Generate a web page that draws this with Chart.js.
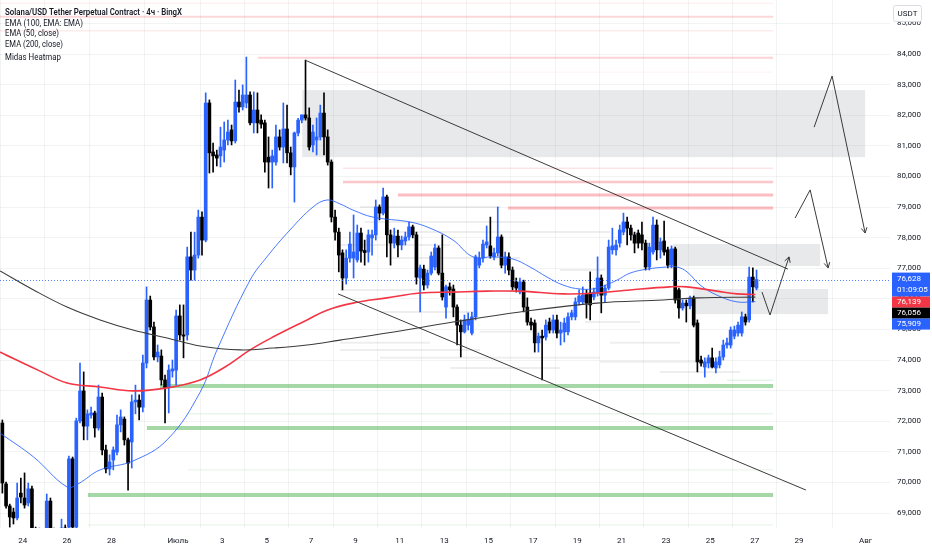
<!DOCTYPE html>
<html lang="ru">
<head>
<meta charset="UTF-8">
<title>SOLUSDT 4ч</title>
<script src="https://cdn.jsdelivr.net/npm/chart.js"></script>
<style>
  html, body { margin: 0; padding: 0; background: #fff; }
  .wrap { width: 932px; height: 550px; position: relative; }
</style>
</head>
<body>
<div class="wrap"><canvas id="chart"></canvas></div>
<script>
// 4h candles, index 0 = 23 June 00:00 (firstCandle = -6 candles before 24 June)
var firstCandle = -6;
var opens = [
  71940,69950,69230,69030,68840,69650,69490,69330,69790,68480,
  68280,68410,68440,69390,68440,68250,68350,68510,68540,70770,
  68540,72010,72990,71840,72200,72270,71780,72790,71060,70440,
  70730,70990,71880,72070,71390,71320,72630,72690,72460,73900,
  75960,75080,74100,74130,73350,73090,73640,73670,75440,74820,
  74820,77370,76940,77430,78670,77920,82400,80800,80700,80670,
  80860,81190,81520,81160,82430,82270,82400,82660,81750,82170,
  81840,81750,80630,80470,80470,81290,80960,81550,80770,80310,
  81420,81840,82010,81910,81030,81190,81290,82070,81290,80470,
  78670,78180,77500,76680,77330,77330,77270,78150,77560,77530,
  77990,78090,79000,78800,79330,78090,77820,78050,77760,77890,
  78020,78350,78090,76680,76970,76450,76840,77040,77660,76840,
  75730,76390,76320,75730,75140,74920,75140,74880,75410,77100,
  77330,77760,77730,77370,77500,78020,77100,77370,76940,76550,
  76220,76550,75730,75240,75210,74560,74780,74750,75240,74980,
  75310,74880,74920,74920,75410,75410,75900,75900,76160,76190,
  76060,76190,76680,76120,76350,77600,77600,77820,78180,78510,
  78310,78090,78150,78090,77820,77040,77530,78410,77600,77890,
  77600,77100,77630,76290,75700,75860,75770,76030,75210,74000,
  73770,73900,74070,73740,73840,74100,74490,74490,74780,74880,
  74880,75410,75310,76710,76350
];
var highs = [
  72040,70010,69290,69160,69980,70140,70310,69980,69880,68540,
  68510,68480,69620,69490,68510,68410,68800,68610,70860,70830,
  72100,73900,73610,72370,72460,72330,73180,72920,71220,70900,
  71160,72200,72370,72140,71450,72860,73180,72860,74160,76390,
  76090,75240,74490,74330,73510,73840,74000,75630,75800,75800,
  77690,78180,78180,78900,78840,82730,82500,81090,80860,81610,
  81780,81840,81680,83150,82820,82990,83900,82760,82760,82730,
  82010,81840,81290,80860,81680,81520,82400,82330,80960,81450,
  81900,82010,83800,82240,81680,81910,82330,82730,81520,80540,
  78900,78310,77600,77600,78180,78740,78410,78310,77920,78250,
  78250,79230,79070,79620,79390,78250,78310,78250,78050,78180,
  78510,78410,78180,77100,77100,76940,77530,77790,77730,78090,
  76450,76520,76450,75800,75310,75470,75540,75570,77430,77530,
  77920,78380,78670,77660,79000,78090,77530,77500,77040,76680,
  76680,76610,76030,75370,75310,74880,74980,75310,75370,75470,
  75470,75240,75370,75540,75630,76030,76290,76390,76290,76880,
  76350,77370,76780,76450,77920,78310,77920,78410,78800,78670,
  78410,78180,78250,78510,77920,77820,78670,78580,77990,78540,
  77690,77730,77690,76350,75960,75960,76090,76090,75310,74130,
  74070,74160,74390,74070,74290,74650,74720,75080,75110,75240,
  75570,75500,77040,77010,76940
];
var lows = [
  69650,69160,68540,68640,68770,69330,69160,69230,68380,68120,
  68050,68120,68350,68310,68120,68090,68280,68250,68410,68440,
  68440,71940,71390,71390,72100,71480,71710,70900,70310,70240,
  70410,70900,71650,71220,69750,70470,72240,72040,72300,73740,
  74980,74000,73940,73180,71940,72270,73440,73180,74650,74070,
  74650,76610,76610,77330,77430,77860,80110,80140,80340,80310,
  80470,81030,81030,81090,82100,82170,82240,81680,81420,81420,
  81580,80140,79620,79620,80370,80860,80440,80440,80050,79160,
  81320,81750,81840,80860,80800,80700,81190,80700,80370,78510,
  77920,76880,76290,76480,77200,76680,77200,77200,77100,77200,
  77430,77920,78580,78740,77370,77100,77660,77370,77600,77760,
  77920,77990,76480,75570,76290,76350,76780,76940,76780,75960,
  75370,76120,75410,74490,74100,74880,74980,74820,75310,77010,
  77200,77660,77330,77270,77400,77010,76840,76780,76290,76220,
  76160,75570,75140,74980,74260,74260,73350,74650,74880,74880,
  74720,74490,74590,74820,75310,75310,75800,75830,75370,75310,
  75960,76090,75540,75900,76290,77460,77430,77690,78090,77760,
  77920,77500,77660,77600,76940,76940,77460,77270,77330,77430,
  77010,77010,75860,75370,75630,75240,75670,75080,73610,73800,
  73440,73740,73740,73580,73740,74000,74390,74390,74690,74780,
  74780,75140,75240,75900,76290
];
var closes = [
  69980,69230,68870,68840,69490,69520,69260,69790,68480,68280,
  68410,68250,69390,68440,68250,68350,68510,68410,70770,68540,
  72010,72990,71840,72240,72270,71780,72790,71060,70440,70670,
  71060,71880,72140,71390,70630,72630,72690,72460,73900,75960,
  75080,74100,74260,73350,73090,73670,73710,75440,74820,74780,
  77370,76940,77430,78670,77920,82400,80770,80670,80600,80960,
  81190,81450,81160,82430,82270,82660,82660,81750,82170,81750,
  81710,80470,80470,80670,81290,80960,81550,80770,80310,81420,
  81840,82010,81910,80960,81450,81290,82070,81290,80470,78670,
  78180,77430,76680,77330,77790,77530,78150,77560,77530,78090,
  78090,79000,78800,79330,78090,77820,78050,77760,77920,78020,
  78350,78090,76710,77010,76450,76840,77400,77660,76840,76060,
  76390,76290,75730,75140,74920,75310,75310,75410,77370,77330,
  77790,77860,77400,77500,78020,77100,77370,76940,76390,76350,
  76550,75730,75240,75140,74560,74780,74720,75140,74980,75310,
  74880,74980,75210,75410,75540,75900,76090,76120,75860,75800,
  76220,76680,76120,76350,77690,77730,77760,78250,78510,78310,
  78090,77820,77820,77820,77040,77690,78410,77600,77860,77530,
  77100,77630,75960,75700,75860,75770,76030,75140,73940,73900,
  73940,74070,73770,73940,74100,74490,74560,74980,74980,75140,
  75410,75240,76710,76390,76628
];

// moving averages: [day from 24 June, price]
var ema50 = [[-1.02,71610],[0.49,70830],[2.0,69850],[2.49,69950],[3.49,70410],[4.97,70700],[6.51,71390],
  [8.0,72950],[8.76,74330],[10.25,76610],[11.01,77370],[12.05,78250],[13.09,79000],[13.72,79230],
  [14.31,79100],[14.89,78900],[15.79,78670],[17.46,78510],[18.36,78310],[19.4,77920],[20.3,77370],
  [21.2,77370],[22.1,77300],[22.87,77040],[23.64,76710],[24.36,76450],[25.13,76320],[25.89,76350],
  [26.79,76610],[27.38,76840],[28.15,76970],[29.05,77040],[29.5,77040],[29.95,76880],[30.54,76450],
  [31.3,76120],[32.2,75900],[33.03,75909]];
var ema100 = [[-1.02,74260],[0.69,73670],[2.0,73250],[3.49,73120],[4.97,72990],[6.51,73090],[8.0,73350],
  [9.12,73770],[10.25,74330],[11.28,74750],[12.82,75310],[13.72,75630],[14.89,75860],[16.42,76030],
  [17.91,76190],[19.4,76220],[20.93,76250],[22.42,76250],[24.36,76160],[25.89,76190],[27.38,76290],
  [29.18,76390],[29.95,76390],[31.3,76250],[32.2,76160],[33.03,76139]];
var ema200 = [[-1.02,76910],[0.49,76290],[2.0,75730],[3.49,75310],[4.97,74980],[6.51,74720],[8.0,74460],
  [9.8,74330],[11.28,74390],[12.82,74490],[14.31,74650],[16.42,74880],[19.4,75240],[22.42,75570],
  [25.89,75860],[28.87,75960],[30.41,76030],[33.03,76056]];

// drawings: trend lines, arrows, zones [fromDay, toDay, top, bottom]
var trendLines = [[[12.73,83800],[34.5,76970]], [[14.22,76160],[35.31,69750]]];
var arrowPaths = [
  [[33.33,76220],[33.69,75470],[34.55,77370]],
  [[34.82,78640],[35.5,79560],[36.31,77010]],
  [[35.68,81610],[36.49,83280],[37.98,78150]]
];
var zones = [[12.6,37.98,82820,80630], [29.32,35.95,77790,77070], [30.22,36.31,76320,75500]];

// horizontal levels [price, fromDay], all end at levelsEnd
var levelsEnd = 33.83;
var redLevels = [[85660,-1.1],[85220,-1.1],[84760,-1.1],[83880,10.61],[83410,14.44],
  [80270,14.44],[79820,14.44],[79390,16.92],[78970,21.88]];
var greenLevels = [[73150,6.19],[71780,5.6],[69590,2.94],[72240,7.45],[70410,7.45],[68610,2.94],[73340,31.75]];
// heatmap segments [price, fromDay, toDay]
var heatLevels = [[79000,15.21,21.52],[78510,15.43,22.87],[78180,16.56,26.48],[77760,14.31,19.26],
  [77330,16.56,22.42],[76940,24.22,26.25],[76290,14.31,18.0],[75570,16.11,20.17],[75240,25.35,27.83],
  [74920,20.6,24.5],[74560,14.31,18.36],[74560,26.48,29.64],[74330,14.31,20.62],[74070,16.11,26.03],
  [73940,26.03,30.54],[73740,19.26,24.22],[73610,28.73,32.34]];

var lastPrice = 76628;
var countdown = '01:09:05';
var axisBadges = [76139, 76056, 75909];

var tickDays = [0,2,4,7,9,11,13,15,17,19,21,23,25,27,29,31,33,35,38];
var tickLabels = ['24','26','28','Июль','3','5','7','9','11','13','15','17','19','21','23','25','27','29','Авг'];
var priceTicks = [69000,70000,71000,72000,73000,74000,75000,76000,77000,78000,79000,80000,81000,82000,83000,84000,85000];
var legendLines = ['Solana/USD Tether Perpetual Contract · 4ч · BingX', 'EMA (100, EMA: EMA)',
  'EMA (50, close)', 'EMA (200, close)', 'Midas Heatmap'];

// styles
var UP = '#2962ff', DOWN = '#000000';
var redStyle = [[1,0.1],[2,0.2],[1.5,0.1],[2,0.22],[1,0.07],[1.5,0.14],[2.5,0.28],[3,0.33],[3,0.33]];
var greenStyle = [[4,0.5],[4,0.5],[4,0.5],[1,0.18],[1,0.15],[1,0.15],[1,0.2]];
var FONT = 'Roboto, "Liberation Sans", sans-serif';

// build candle datasets
var candleX = opens.map(function (o, i) { return (firstCandle + i) / 6 + 1 / 12; });
var bodyData = [], wickData = [], colors = [];
for (var i = 0; i < opens.length; i++) {
  var lo = Math.min(opens[i], closes[i]), hi = Math.max(opens[i], closes[i]);
  if (hi - lo < 40) { lo -= 20; hi += 20; } // keep tiny bodies visible
  bodyData.push({ x: candleX[i], y: [lo, hi] });
  wickData.push({ x: candleX[i], y: [lows[i], highs[i]] });
  colors.push(closes[i] >= opens[i] ? UP : DOWN);
}

function pts(arr) { return arr.map(function (p) { return { x: p[0], y: p[1] }; }); }

function lineSet(data, color, width, order) {
  return { type: 'line', data: pts(data), borderColor: color, borderWidth: width,
    pointRadius: 0, tension: 0.4, fill: false, order: order };
}

var datasets = [
  lineSet(ema200, '#3c3c3c', 1.1, 1),
  lineSet(ema100, '#f23645', 1.6, 1),
  lineSet(ema50, 'rgba(41,98,255,0.85)', 1, 1)
];
trendLines.concat(arrowPaths).forEach(function (t) {
  var s = lineSet(t, '#3a3a3a', 1, 0);
  s.tension = 0;
  datasets.push(s);
});
datasets.push({ label: 'wicks', data: wickData, backgroundColor: colors, barThickness: 1, grouped: false, order: 3 });
datasets.push({ label: 'bodies', data: bodyData, backgroundColor: colors, barThickness: 3, grouped: false, order: 2 });

function hLine(ctx, xs, ys, price, d0, d1) {
  var y = ys.getPixelForValue(price);
  ctx.beginPath();
  ctx.moveTo(xs.getPixelForValue(d0), y);
  ctx.lineTo(xs.getPixelForValue(d1), y);
  ctx.stroke();
}

// scales should fill the canvas edge to edge, without label padding
function noPadding(s) {
  s.paddingTop = 0; s.paddingBottom = 0; s.paddingLeft = 0; s.paddingRight = 0;
}

// zones, levels and heatmap go under the candles
var backdrop = {
  id: 'backdrop',
  beforeDatasetsDraw: function (chart) {
    var ctx = chart.ctx, xs = chart.scales.x, ys = chart.scales.y, a = chart.chartArea;
    ctx.save();
    ctx.beginPath();
    ctx.rect(a.left, a.top, a.right - a.left, a.bottom - a.top);
    ctx.clip();
    ctx.lineWidth = 2;
    ctx.strokeStyle = 'rgba(120,123,134,0.13)';
    heatLevels.forEach(function (h) { hLine(ctx, xs, ys, h[0], h[1], h[2]); });
    redLevels.forEach(function (l, i) {
      ctx.lineWidth = redStyle[i][0];
      ctx.strokeStyle = 'rgba(242,54,69,' + redStyle[i][1] + ')';
      hLine(ctx, xs, ys, l[0], l[1], levelsEnd);
    });
    greenLevels.forEach(function (l, i) {
      ctx.lineWidth = greenStyle[i][0];
      ctx.strokeStyle = 'rgba(76,175,80,' + greenStyle[i][1] + ')';
      hLine(ctx, xs, ys, l[0], l[1], levelsEnd);
    });
    ctx.fillStyle = 'rgba(120,123,134,0.17)';
    zones.forEach(function (z) {
      var x0 = xs.getPixelForValue(z[0]), x1 = xs.getPixelForValue(z[1]);
      var y0 = ys.getPixelForValue(z[2]), y1 = ys.getPixelForValue(z[3]);
      ctx.fillRect(x0, y0, x1 - x0, y1 - y0);
    });
    ctx.restore();
  }
};

// arrow heads, last price line, axis badges and legend text
var overlay = {
  id: 'overlay',
  afterDatasetsDraw: function (chart) {
    var ctx = chart.ctx, xs = chart.scales.x, ys = chart.scales.y, a = chart.chartArea;
    ctx.save();
    ctx.strokeStyle = '#3a3a3a';
    ctx.lineWidth = 1;
    arrowPaths.forEach(function (p) {
      var n = p.length;
      var x1 = xs.getPixelForValue(p[n - 1][0]), y1 = ys.getPixelForValue(p[n - 1][1]);
      var x0 = xs.getPixelForValue(p[n - 2][0]), y0 = ys.getPixelForValue(p[n - 2][1]);
      var ang = Math.atan2(y1 - y0, x1 - x0);
      ctx.beginPath();
      ctx.moveTo(x1 - 6 * Math.cos(ang - 0.5), y1 - 6 * Math.sin(ang - 0.5));
      ctx.lineTo(x1, y1);
      ctx.lineTo(x1 - 6 * Math.cos(ang + 0.5), y1 - 6 * Math.sin(ang + 0.5));
      ctx.stroke();
    });
    // last price, dotted, snapped to the pixel grid so it stays crisp
    var py = Math.round(ys.getPixelForValue(lastPrice)) + 0.5;
    ctx.strokeStyle = 'rgba(41,98,255,0.8)';
    ctx.setLineDash([1, 2]);
    ctx.beginPath();
    ctx.moveTo(a.left, py);
    ctx.lineTo(a.right, py);
    ctx.stroke();
    ctx.restore();
  },
  afterDraw: function (chart) {
    var ctx = chart.ctx, ys = chart.scales.y, a = chart.chartArea;
    var bx = a.right + 2, bw = 932 - bx - 2;
    ctx.save();
    ctx.textBaseline = 'middle';
    ctx.textAlign = 'left';
    ctx.font = '8px ' + FONT;

    var top = ys.getPixelForValue(lastPrice) - 7;
    ctx.fillStyle = UP;
    ctx.fillRect(bx, top, bw, 24);
    ctx.fillStyle = '#fff';
    ctx.fillText(lastPrice.toLocaleString('en-US'), a.right + 7, top + 6);
    ctx.fillText(countdown, a.right + 7, top + 17);
    top += 24;
    var badgeColors = ['#f23645', '#000000', UP];
    axisBadges.forEach(function (v, i) {
      ctx.fillStyle = badgeColors[i];
      ctx.fillRect(bx, top, bw, 11);
      ctx.fillStyle = '#fff';
      ctx.fillText(v.toLocaleString('en-US'), a.right + 7, top + 5.5);
      top += 11;
    });

    // currency box
    ctx.fillStyle = '#fff';
    ctx.strokeStyle = '#d9dce3';
    ctx.beginPath();
    ctx.roundRect(893.5, 5.5, 28, 16, 2);
    ctx.fill();
    ctx.stroke();
    ctx.fillStyle = '#131722';
    ctx.textAlign = 'center';
    ctx.fillText('USDT', 907.5, 13.5);

    // legend
    ctx.textAlign = 'left';
    var rows = [12.7, 23.3, 34, 44.7, 57.3];
    var widths = [177, 78, 54, 58, 56];
    legendLines.forEach(function (t, i) {
      ctx.font = (i === 0 ? '600 ' : '') + '9.5px ' + FONT;
      ctx.fillStyle = '#131722';
      ctx.fillText(t, 5, rows[i], widths[i]);
    });
    ctx.restore();
  }
};

new Chart(document.getElementById('chart'), {
  type: 'bar',
  data: { datasets: datasets },
  options: {
    responsive: true,
    maintainAspectRatio: false,
    animation: false,
    layout: { padding: 0, autoPadding: false },
    plugins: { legend: { display: false }, tooltip: { enabled: false } },
    scales: {
      x: {
        type: 'linear',
        min: -1.0235,
        max: 39.1,
        offset: false,
        afterBuildTicks: function (s) { s.ticks = tickDays.map(function (d) { return { value: d }; }); },
        afterFit: function (s) { s.height = 22; noPadding(s); },
        grid: { color: 'rgba(42,46,57,0.06)', drawTicks: false },
        border: { display: false },
        ticks: {
          autoSkip: false, maxRotation: 0, padding: 8, color: '#131722',
          font: { family: FONT, size: 8 },
          callback: function (v, i) { return tickLabels[i]; }
        }
      },
      y: {
        position: 'right',
        min: 68510,
        max: 85765,
        afterBuildTicks: function (s) { s.ticks = priceTicks.map(function (p) { return { value: p }; }); },
        afterFit: function (s) { s.width = 42; noPadding(s); },
        grid: { color: 'rgba(42,46,57,0.06)', drawTicks: false },
        border: { display: false },
        ticks: {
          autoSkip: false, padding: 7, color: '#131722',
          font: { family: FONT, size: 8 },
          callback: function (v) { return v.toLocaleString('en-US'); }
        }
      }
    }
  },
  plugins: [backdrop, overlay]
});
</script>
</body>
</html>
